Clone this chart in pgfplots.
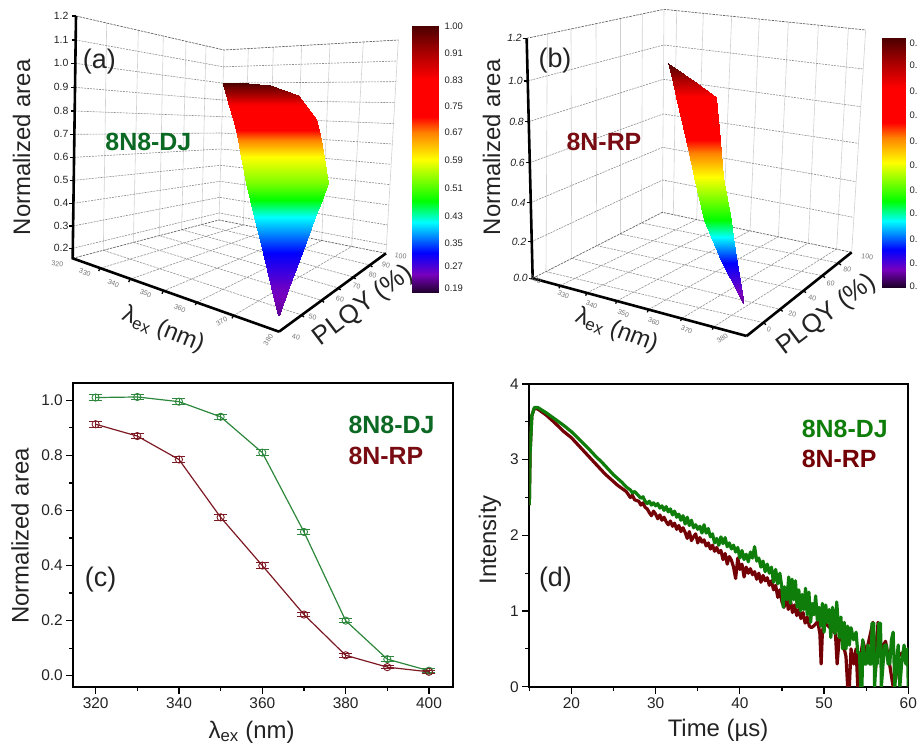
\documentclass[border=0pt]{standalone}
\usepackage{fontspec}
\setmainfont{Liberation Sans}
\usepackage{pgfplots}
\pgfplotsset{compat=1.18}
\newcommand{\fsz}[1]{\fontsize{#1}{#1}\selectfont}
\newcommand{\lamex}{λ\textsubscript{ex}}
\definecolor{dj}{RGB}{12,105,35}
\definecolor{rp}{RGB}{120,12,18}
\definecolor{djl}{RGB}{45,135,60}
\definecolor{rpl}{RGB}{125,25,35}
\definecolor{djd}{RGB}{15,125,10}
\definecolor{rpd}{RGB}{115,0,5}
\definecolor{txt}{RGB}{35,35,35}
\tikzset{sm/.style={font=\fsz{7},text=black!55,inner sep=0pt}}
\pgfplotsset{
 vis3d/.style={scale only axis,hide axis,clip=false,xmin=0,ymin=0,ymax=1110,y dir=reverse,
   point meta min=0,point meta max=1,
   colormap={rbw}{rgb255(0pt)=(30,0,40) rgb255(7pt)=(120,0,190) rgb255(15pt)=(0,0,255) rgb255(26.5pt)=(0,255,255) rgb255(34.5pt)=(0,255,0) rgb255(50pt)=(255,255,0) rgb255(60pt)=(255,130,0) rgb255(66pt)=(255,0,0) rgb255(80pt)=(255,0,0) rgb255(90pt)=(170,0,0) rgb255(100pt)=(75,0,0)}},
 sfc/.style={surf,shader=interp,mesh/cols=2,point meta=explicit},
 wv/.style={line width=0.6bp,color=black!18},
 wh/.style={line width=0.6bp,color=black!45,dash pattern=on 2bp off 1bp},
 fl/.style={line width=0.6bp,color=black!42,dash pattern=on 2.5bp off 1bp},
 ed/.style={line width=0.7bp,color=black!60,dash pattern=on 2.5bp off 1bp},
 ax/.style={line width=2.4bp,color=black,line join=miter},
 tk/.style={line width=1.3bp,color=black},
}
\begin{document}
\begin{tikzpicture}
\path[use as bounding box] (0,0) rectangle (917bp,744bp);
%% ---------- panel (a): drawn on the picture plane of the perspective box
\begin{axis}[vis3d,at={(0bp,374bp)},anchor=south west,width=470bp,height=370bp,xmax=1410]
% wall: vertical
\addplot[wv] coordinates {(320,69)(310,751)};
\addplot[wv] coordinates {(415,91)(400,727)};
\addplot[wv] coordinates {(490,108)(478,707)};
\addplot[wv] coordinates {(558,124)(545,689)};
\addplot[wv] coordinates {(618,138)(605,674)};
\addplot[wv] coordinates {(745,146)(730,675)};
\addplot[wv] coordinates {(820,141.5)(805,690)};
\addplot[wv] coordinates {(905,137)(885,705.5)};
\addplot[wv] coordinates {(990,132)(965,721.5)};
\addplot[wv] coordinates {(1090,126)(1055,739.5)};
\addplot[wv] coordinates {(672,150)(657,660)};
\addplot[wv] coordinates {(1195,120)(1158,760)};
% wall: levels
\addplot[wh] coordinates {(227,120)(670.5,200.5)(1191,183)};
\addplot[wh] coordinates {(226,190)(669,249.6)(1188,245)};
\addplot[wh] coordinates {(225,262)(667.6,300)(1184,308)};
\addplot[wh] coordinates {(224,333)(666,350)(1180.5,371)};
\addplot[wh] coordinates {(223,403)(665,399)(1177,432)};
\addplot[wh] coordinates {(222,472)(663,447)(1173,493)};
\addplot[wh] coordinates {(221,541)(662,496)(1170,554)};
\addplot[wh] coordinates {(220,610)(660,544)(1166,615)};
\addplot[wh] coordinates {(219,678)(659,592)(1163,675)};
\addplot[wh] coordinates {(218,745)(658,639)(1159.5,734)};
% floor
\addplot[fl] coordinates {(300,805)(730,675)};
\addplot[fl] coordinates {(390,838)(805,690)};
\addplot[fl] coordinates {(490,873)(885,705.5)};
\addplot[fl] coordinates {(590,907)(965,721.5)};
\addplot[fl] coordinates {(700,947)(1055,739.5)};
\addplot[fl] coordinates {(310,751)(905,945)};
\addplot[fl] coordinates {(400,727)(965,901)};
\addplot[fl] coordinates {(478,707)(1015,864)};
\addplot[fl] coordinates {(545,689)(1060,831)};
\addplot[fl] coordinates {(605,674)(1110,795)};
% edges
\addplot[ed] coordinates {(228,48)(672,150)(1195,120)};
\addplot[ed] coordinates {(218,775)(657,660)(1158,760)};
% surface
\addplot[sfc] coordinates {
(668,250)[1.0] (745,250)[1.0]
(670,256)[0.98] (810,256)[0.98]
(678,285)[0.90] (893,285)[0.90]
(685,310)[0.82] (912,310)[0.82]
(698,358)[0.72] (948,358)[0.72]
(707,390)[0.66] (956,390)[0.66]
(714,420)[0.60] (962,420)[0.60]
(724,470)[0.50] (973,470)[0.50]
(737,548)[0.42] (984,548)[0.42]
(750,600)[0.345] (965,600)[0.345]
(762,650)[0.265] (946,650)[0.265]
(789,760)[0.15] (905,760)[0.15]
(813,860)[0.08] (868,860)[0.08]
(834,948)[0.05] (836,948)[0.05]
};
% colourbar
\addplot[sfc] coordinates {(1237,78)[1] (1316,78)[1] (1237,878)[0] (1316,878)[0]};
% axes
\addplot[black,solid,line width=2.6bp,line join=miter] coordinates {(228,48)(218,775)(837,995)};
\addplot[black,solid,line width=2.6bp,line join=miter] coordinates {(837,995)(1158,760)};
\addplot[tk] coordinates {(216,48)(228,48)};
\addplot[tk] coordinates {(215,120)(227,120)};
\addplot[tk] coordinates {(214,190)(226,190)};
\addplot[tk] coordinates {(213,262)(225,262)};
\addplot[tk] coordinates {(212,333)(224,333)};
\addplot[tk] coordinates {(211,403)(223,403)};
\addplot[tk] coordinates {(210,472)(222,472)};
\addplot[tk] coordinates {(209,541)(221,541)};
\addplot[tk] coordinates {(208,610)(220,610)};
\addplot[tk] coordinates {(207,678)(219,678)};
\addplot[tk] coordinates {(206,745)(218,745)};
\addplot[tk] coordinates {(296,813)(300,805)};
\addplot[tk] coordinates {(386,846)(390,838)};
\addplot[tk] coordinates {(486,881)(490,873)};
\addplot[tk] coordinates {(586,915)(590,907)};
\addplot[tk] coordinates {(696,955)(700,947)};
\addplot[tk] coordinates {(905,945)(912,951)};
\addplot[tk] coordinates {(965,901)(972,907)};
\addplot[tk] coordinates {(1015,864)(1022,870)};
\addplot[tk] coordinates {(1060,831)(1067,837)};
\addplot[tk] coordinates {(1110,795)(1117,801)};
% text
\foreach \t/\y in {1.2/48,1.1/120,1.0/190,0.9/262,0.8/333,0.7/403,0.6/472,0.5/541,0.4/610,0.3/678,0.2/745}
  {\edef\tmp{\noexpand\node[anchor=east,inner sep=0pt,font=\noexpand\fsz{10.5},text=txt] at (axis cs:206,\y) {\t};}\tmp}
\foreach \t/\y in {1.00/80,0.91/160,0.83/240,0.75/318,0.67/398,0.59/480,0.51/565,0.43/648,0.35/730,0.27/798,0.19/865}
  {\edef\tmp{\noexpand\node[anchor=west,inner sep=0pt,font=\noexpand\fsz{9.5},text=txt] at (axis cs:1333,\y) {\t};}\tmp}
\node[sm,rotate=-5] at (axis cs:172,792) {320};
\node[sm,rotate=-20] at (axis cs:255,818) {330};
\node[sm,rotate=-25] at (axis cs:340,850) {340};
\node[sm,rotate=-25] at (axis cs:437,880) {350};
\node[sm,rotate=-25] at (axis cs:540,925) {360};
\node[sm,rotate=30] at (axis cs:665,965) {370};
\node[sm,rotate=55] at (axis cs:805,1020) {380};
\node[sm,rotate=-12] at (axis cs:888,1012) {40};
\node[sm,rotate=-12] at (axis cs:938,952) {50};
\node[sm,rotate=-12] at (axis cs:1020,898) {60};
\node[sm,rotate=-12] at (axis cs:1070,858) {70};
\node[sm,rotate=-12] at (axis cs:1118,825) {80};
\node[sm,rotate=-12] at (axis cs:1158,795) {90};
\node[sm,rotate=-8] at (axis cs:1202,768) {100};
\node[rotate=90,font=\fsz{24},text=txt] at (axis cs:65,442) {Normalized area};
\node[rotate=-22,font=\fsz{24},text=txt] at (axis cs:490,990) {\lamex{} (nm)};
\node[rotate=37,font=\fsz{26},text=txt] at (axis cs:1090,917) {PLQY (\%)};
\node[font=\fsz{27},text=txt] at (axis cs:298,185) {(a)};
\node[font=\bfseries\fsz{25},text=dj] at (axis cs:445,425) {8N8-DJ};
\end{axis}
%% ---------- panel (b)
\begin{axis}[vis3d,at={(470bp,374bp)},anchor=south west,width=447bp,height=370bp,xmax=1341]
\addplot[wv] coordinates {(232,102)(228,815)};
\addplot[wv] coordinates {(303,87)(305,775)};
\addplot[wv] coordinates {(378,71)(380,737)};
\addplot[wv] coordinates {(450,56)(450,702)};
\addplot[wv] coordinates {(517,42)(515,669)};
\addplot[wv] coordinates {(582,28)(577,637)};
\addplot[wv] coordinates {(620,32)(610,644)};
\addplot[wv] coordinates {(700,40)(680,659)};
\addplot[wv] coordinates {(785,49)(760,676)};
\addplot[wv] coordinates {(868,57)(840,692)};
\addplot[wv] coordinates {(955,66)(925,710)};
\addplot[wv] coordinates {(1045,75)(1015,729)};
\addplot[wv] coordinates {(1135,85)(1100,747)};
\addplot[wv] coordinates {(1187,90)(1145,757)};
\addplot[wh] coordinates {(173,243)(581,135)(1180,207)};
\addplot[wh] coordinates {(176,365)(580,238)(1172,320)};
\addplot[wh] coordinates {(179,488)(579,342)(1165,430)};
\addplot[wh] coordinates {(182,608)(578,442)(1158,545)};
\addplot[wh] coordinates {(185,725)(578,540)(1150,652)};
\addplot[fl] coordinates {(270,857)(680,659)};
\addplot[fl] coordinates {(350,879)(760,676)};
\addplot[fl] coordinates {(440,903)(840,692)};
\addplot[fl] coordinates {(535,929)(925,710)};
\addplot[fl] coordinates {(635,955)(1015,729)};
\addplot[fl] coordinates {(730,981)(1100,747)};
\addplot[fl] coordinates {(228,815)(880,968)};
\addplot[fl] coordinates {(305,775)(930,928)};
\addplot[fl] coordinates {(380,737)(1000,872)};
\addplot[fl] coordinates {(450,702)(1057,827)};
\addplot[fl] coordinates {(515,669)(1105,789)};
\addplot[ed] coordinates {(170,115)(582,28)(1187,90)};
\addplot[ed] coordinates {(188,835)(577,637)(1145,757)};
\addplot[sfc] coordinates {
(595,190)[1.0] (595,190)[1.0]
(609,250)[0.88] (681,250)[0.88]
(618,290)[0.80] (738,290)[0.80]
(648,420)[0.66] (749,420)[0.66]
(657,460)[0.60] (753,460)[0.60]
(672,530)[0.50] (759,530)[0.50]
(703,660)[0.345] (782,660)[0.345]
(722,710)[0.265] (790,710)[0.265]
(756,790)[0.15] (802,790)[0.15]
(804,880)[0.07] (815,880)[0.07]
(819,912)[0.05] (821,912)[0.05]
};
\addplot[sfc] coordinates {(1235,115)[1] (1306,115)[1] (1235,862)[0] (1306,862)[0]};
\addplot[black,solid,line width=2.6bp,line join=miter] coordinates {(170,115)(188,835)(830,1008)};
\addplot[black,solid,line width=2.6bp,line join=miter] coordinates {(830,1008)(1145,757)};
\addplot[tk] coordinates {(158,115)(170,115)};
\addplot[tk] coordinates {(161,243)(173,243)};
\addplot[tk] coordinates {(164,365)(176,365)};
\addplot[tk] coordinates {(167,488)(179,488)};
\addplot[tk] coordinates {(170,608)(182,608)};
\addplot[tk] coordinates {(173,725)(185,725)};
\addplot[tk] coordinates {(176,835)(188,835)};
\addplot[tk] coordinates {(267,865)(270,857)};
\addplot[tk] coordinates {(347,887)(350,879)};
\addplot[tk] coordinates {(437,911)(440,903)};
\addplot[tk] coordinates {(532,937)(535,929)};
\addplot[tk] coordinates {(632,963)(635,955)};
\addplot[tk] coordinates {(727,989)(730,981)};
\addplot[tk] coordinates {(880,968)(888,974)};
\addplot[tk] coordinates {(930,928)(938,934)};
\addplot[tk] coordinates {(1000,872)(1008,878)};
\addplot[tk] coordinates {(1057,827)(1065,833)};
\addplot[tk] coordinates {(1105,789)(1113,795)};
\foreach \t/\y/\xx in {1.2/115/156,1.0/243/159,0.8/365/162,0.6/488/165,0.4/608/168,0.2/725/170,0.0/835/174}
  {\edef\tmp{\noexpand\node[anchor=east,inner sep=0pt,font=\noexpand\itshape\noexpand\fsz{10.5},text=txt] at (axis cs:\xx,\y) {\t};}\tmp}
\foreach \t/\y in {0.96/130,0.87/197,0.78/275,0.69/347,0.60/425,0.51/495,0.42/572,0.33/640,0.24/717,0.15/790,0.06/858}
  {\edef\tmp{\noexpand\node[anchor=west,inner sep=0pt,font=\noexpand\fsz{9.5},text=txt] at (axis cs:1318,\y) {\t};}\tmp}
\node[sm,rotate=-25] at (axis cs:197,838) {320};
\node[sm,rotate=-25] at (axis cs:280,885) {330};
\node[sm,rotate=-25] at (axis cs:365,915) {340};
\node[sm,rotate=-25] at (axis cs:460,940) {350};
\node[sm,rotate=-25] at (axis cs:552,965) {360};
\node[sm,rotate=-25] at (axis cs:650,990) {370};
\node[sm,rotate=35] at (axis cs:757,1015) {380};
\node[sm,rotate=-10] at (axis cs:897,988) {0};
\node[sm,rotate=-10] at (axis cs:967,942) {20};
\node[sm,rotate=-10] at (axis cs:1027,893) {40};
\node[sm,rotate=-10] at (axis cs:1082,850) {60};
\node[sm,rotate=-10] at (axis cs:1132,808) {80};
\node[sm,rotate=-8] at (axis cs:1192,770) {100};
\node[rotate=90,font=\fsz{24},text=txt] at (axis cs:65,442) {Normalized area};
\node[rotate=-21,font=\fsz{24},text=txt] at (axis cs:440,992) {\lamex{} (nm)};
\node[rotate=37,font=\fsz{26},text=txt] at (axis cs:1070,945) {PLQY (\%)};
\node[font=\fsz{27},text=txt] at (axis cs:255,182) {(b)};
\node[font=\bfseries\fsz{25},text=rp] at (axis cs:402,425) {8N-RP};
\end{axis}
%% ---------- panel (c)
\begin{axis}[at={(73.3bp,57.3bp)},anchor=south west,scale only axis,width=380bp,height=303.4bp,
 xmin=314.64,xmax=405.84,ymin=-0.04,ymax=1.0617,
 xtick={320,340,...,400},minor xtick={330,350,370,390},
 ytick={0,0.2,...,1.0},minor ytick={0.1,0.3,0.5,0.7,0.9},
 yticklabel style={/pgf/number format/fixed,/pgf/number format/fixed zerofill,/pgf/number format/precision=1},
 tick align=outside,xtick pos=bottom,ytick pos=left,
 major tick length=7bp,minor tick length=4bp,
 every tick/.style={line width=1.2bp,black},
 axis line style={line width=2bp},
 /pgf/number format/assume math mode=true,
 tick label style={font=\fsz{15.5},text=txt},
 xlabel={\lamex{} (nm)},ylabel={Normalized area},
 every axis x label/.style={at={(axis description cs:0.469,-0.149)},anchor=center,font=\fsz{24},text=txt},
 every axis y label/.style={at={(axis description cs:-0.140,0.497)},anchor=center,rotate=90,font=\fsz{24},text=txt},
]
\addplot[djl,line width=1.2bp,mark=o,mark size=3.6bp,mark options={solid,line width=0.9bp},
 error bars/.cd,y dir=both,y explicit,error bar style={line width=0.9bp},error mark options={line width=0.9bp,mark size=6.5bp,rotate=90}]
 coordinates {(320,1.01)+-(0,0.01) (330,1.012)+-(0,0.01) (340,0.995)+-(0,0.01) (350,0.94)+-(0,0.01) (360,0.81)+-(0,0.011) (370,0.522)+-(0,0.01) (380,0.20)+-(0,0.007) (390,0.06)+-(0,0.01) (400,0.018)+-(0,0.007)};
\addplot[rpl,line width=1.2bp,mark=o,mark size=3.6bp,mark options={solid,line width=0.9bp},
 error bars/.cd,y dir=both,y explicit,error bar style={line width=0.9bp},error mark options={line width=0.9bp,mark size=6.5bp,rotate=90}]
 coordinates {(320,0.913)+-(0,0.01) (330,0.87)+-(0,0.01) (340,0.785)+-(0,0.012) (350,0.575)+-(0,0.012) (360,0.40)+-(0,0.01) (370,0.222)+-(0,0.008) (380,0.074)+-(0,0.007) (390,0.031)+-(0,0.005) (400,0.014)+-(0,0.005)};
\node[anchor=west,inner sep=0pt,font=\bfseries\fsz{25},text=dj] at (axis description cs:0.724,0.863) {8N8-DJ};
\node[anchor=west,inner sep=0pt,font=\bfseries\fsz{25},text=rp] at (axis description cs:0.724,0.76) {8N-RP};
\node[font=\fsz{27},text=txt] at (axis description cs:0.072,0.354) {(c)};
\end{axis}
%% ---------- panel (d)
\begin{axis}[at={(529.3bp,57.3bp)},anchor=south west,scale only axis,width=379bp,height=302.7bp,
 xmin=15,xmax=60,ymin=0,ymax=4,
 xtick={20,30,...,60},minor xtick={15,25,35,45,55},
 ytick={0,1,2,3,4},minor ytick={0.5,1.5,2.5,3.5},
 tick align=outside,xtick pos=bottom,ytick pos=left,
 major tick length=7bp,minor tick length=4bp,
 every tick/.style={line width=1.2bp,black},
 axis line style={line width=2bp},
 /pgf/number format/assume math mode=true,
 tick label style={font=\fsz{15.5},text=txt},
 xlabel={Time (µs)},ylabel={Intensity},
 every axis x label/.style={at={(axis description cs:0.498,-0.143)},anchor=center,font=\fsz{24},text=txt},
 every axis y label/.style={at={(axis description cs:-0.104,0.485)},anchor=center,rotate=90,font=\fsz{24},text=txt},
]
\addplot[rpd,line width=3.2bp,line join=round] coordinates {
(15,2.4)(15.1,3.1)(15.3,3.58)(15.6,3.68)(16,3.67)(17,3.59)(18,3.49)(19,3.38)(20,3.29)(21,3.17)(22,3.05)(22.5,2.99)(23,2.93)(23.5,2.87)(24,2.81)(24.5,2.76)(25,2.71)(25.5,2.66)(26,2.62)(26.5,2.58)(27,2.50)(27.25,2.53)(27.5,2.47)(28,2.45)(28.25,2.40)(28.5,2.43)(28.75,2.37)(29,2.35)(29.25,2.30)(29.5,2.26)(29.75,2.32)(30,2.28)(30.25,2.22)(30.5,2.27)(30.75,2.20)(31,2.24)(31.25,2.18)(31.5,2.14)(31.75,2.19)(32,2.12)(32.25,2.16)(32.5,2.08)(32.75,2.13)(33,2.05)(33.25,2.10)(33.5,2.04)(33.75,1.96)(34,2.05)(34.25,1.93)(34.5,1.98)(34.75,2.02)(35,1.90)(35.25,1.97)(35.5,1.91)(35.75,1.94)(36,1.86)(36.25,1.90)(36.5,1.82)(36.75,1.87)(37,1.79)(37.25,1.84)(37.5,1.77)(37.75,1.80)(38,1.68)(38.25,1.76)(38.5,1.62)(38.75,1.72)(39,1.67)(39.25,1.58)(39.5,1.43)(39.75,1.70)(40,1.55)(40.25,1.62)(40.5,1.45)(40.75,1.58)(41,1.50)(41.25,1.56)(41.5,1.48)(41.75,1.52)(42,1.42)(42.25,1.50)(42.5,1.38)(42.75,1.47)(43,1.40)(43.25,1.44)(43.5,1.34)(43.75,1.40)(44,1.28)(44.25,1.34)(44.5,1.18)(44.75,1.28)(45,1.12)(45.25,1.05)(45.5,1.22)(45.75,1.02)(46,1.14)(46.25,0.98)(46.5,1.08)(46.75,0.94)(47,1.02)(47.25,0.90)(47.5,0.98)(47.75,0.84)(48,0.92)(48.25,0.80)(48.5,0.78)(48.75,0.80)(49,0.83)(49.25,0.86)(49.5,0.7)(49.65,0.30)(49.8,0.72)(50,0.85)(50.5,0.8)(51,0.75)(51.35,0.7)(51.55,0.30)(51.8,0.65)(52,0.7)(52.3,0.55)(52.6,0.4)(52.8,0)(53,0)(53.2,0.5)(53.5,0.3)(53.8,0.5)(54,0)(54.2,0.3)(54.6,0.6)(55,0.45)(55.5,0.7)(55.8,0.85)(56.1,0.2)(56.4,0.85)(56.8,0.5)(57.3,0.6)(57.7,0.35)(58.2,0)(58.5,0.1)(58.8,0.4)(59.3,0.45)(60,0.3)};
\addplot[djd,line width=3.2bp,line join=round] coordinates {
(15,2.4)(15.1,3.1)(15.3,3.58)(15.6,3.69)(16,3.69)(17,3.62)(18,3.54)(19,3.46)(20,3.37)(21,3.26)(22,3.15)(22.5,3.09)(23,3.03)(23.5,2.98)(24,2.92)(24.5,2.86)(25,2.80)(25.5,2.75)(26,2.70)(26.5,2.64)(27,2.60)(27.25,2.56)(27.5,2.58)(28,2.52)(28.25,2.49)(28.5,2.51)(28.75,2.45)(29,2.42)(29.25,2.45)(29.5,2.40)(29.75,2.43)(30,2.39)(30.25,2.42)(30.5,2.36)(30.75,2.39)(31,2.33)(31.25,2.38)(31.5,2.31)(31.75,2.35)(32,2.27)(32.25,2.32)(32.5,2.24)(32.75,2.28)(33,2.20)(33.25,2.26)(33.5,2.15)(33.75,2.24)(34,2.13)(34.25,2.20)(34.5,2.10)(34.75,2.14)(35,2.08)(35.25,2.12)(35.5,2.03)(35.75,2.14)(36,2.03)(36.25,2.09)(36.5,1.98)(36.75,2.02)(37,1.90)(37.25,1.96)(37.5,1.87)(37.75,1.98)(38,1.89)(38.25,1.97)(38.5,1.85)(38.75,1.90)(39,1.82)(39.25,1.87)(39.5,1.78)(39.75,1.84)(40,1.70)(40.25,1.80)(40.5,1.68)(40.75,1.75)(41,1.65)(41.25,1.78)(41.5,1.70)(41.75,1.85)(42,1.66)(42.25,1.70)(42.5,1.58)(42.75,1.66)(43,1.52)(43.25,1.62)(43.5,1.50)(43.75,1.58)(44,1.38)(44.25,1.55)(44.5,1.36)(44.75,1.50)(45,1.30)(45.15,1.05)(45.3,1.32)(45.6,1.15)(45.8,1.45)(46,1.10)(46.2,1.42)(46.4,1.15)(46.6,1.40)(46.8,1.05)(47,1.28)(47.2,1.0)(47.4,1.22)(47.6,1.02)(47.8,1.30)(48,0.95)(48.2,1.25)(48.4,0.85)(48.6,1.10)(48.8,0.95)(49,1.20)(49.2,0.88)(49.4,1.05)(49.6,0.80)(49.8,1.10)(50,0.72)(50.2,1.08)(50.4,0.85)(50.6,1.02)(50.8,0.65)(51,1.05)(51.3,0.70)(51.5,1.12)(51.8,0.65)(52,0.92)(52.2,0.50)(52.4,0.85)(52.6,0.50)(52.8,0.80)(53,0.55)(53.2,0.78)(53.5,0.62)(53.8,0.72)(54,0.45)(54.2,0.45)(54.35,0)(54.5,0)(54.6,0.62)(54.8,0.30)(55,0.30)(55.2,0.55)(55.4,0.30)(55.6,0.30)(55.7,0.84)(55.9,0.84)(56,0)(56.15,0.30)(56.3,0.30)(56.5,0.84)(56.7,0.84)(56.8,0)(57,0.30)(57.2,0.55)(57.4,0.55)(57.6,0.30)(57.8,0.30)(58,0.62)(58.2,0.72)(58.4,0)(58.6,0.30)(58.8,0.55)(59,0)(59.2,0.30)(59.5,0.55)(59.7,0.30)(59.9,0.50)(60,0)};
\node[anchor=west,inner sep=0pt,font=\bfseries\fsz{25},text=djd] at (axis description cs:0.7186,0.853) {8N8-DJ};
\node[anchor=west,inner sep=0pt,font=\bfseries\fsz{25},text=rpd] at (axis description cs:0.7186,0.751) {8N-RP};
\node[font=\fsz{27},text=txt] at (axis description cs:0.069,0.355) {(d)};
\end{axis}
\end{tikzpicture}
\end{document}
